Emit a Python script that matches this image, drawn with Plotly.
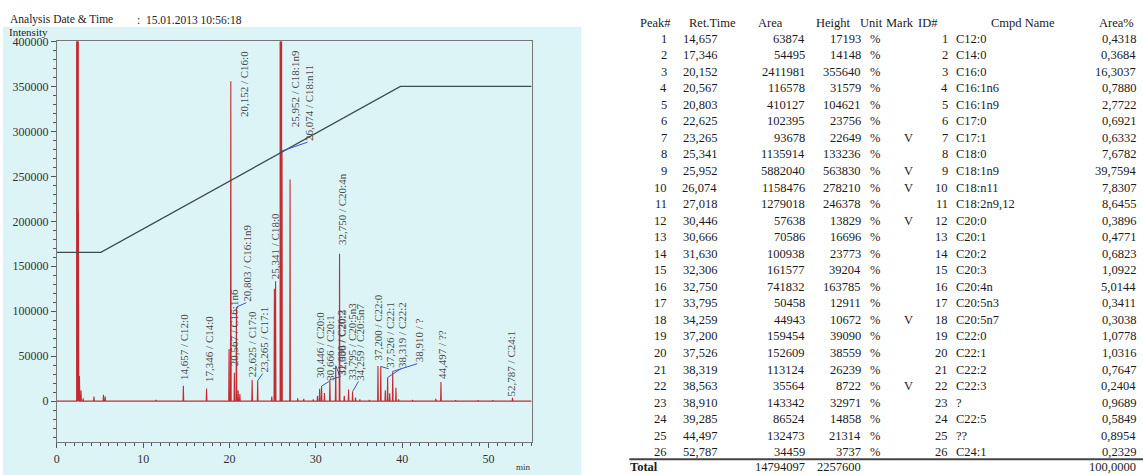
import plotly.graph_objects as go

# ---------------- data ----------------
peak_no = list(range(1, 27))
ret_time = [14.657, 17.346, 20.152, 20.567, 20.803, 22.625, 23.265, 25.341, 25.952, 26.074,
            27.018, 30.446, 30.666, 31.630, 32.306, 32.750, 33.795, 34.259, 37.200, 37.526,
            38.319, 38.563, 38.910, 39.285, 44.497, 52.787]
area = [63874, 54495, 2411981, 116578, 410127, 102395, 93678, 1135914, 5882040, 1158476,
        1279018, 57638, 70586, 100938, 161577, 741832, 50458, 44943, 159454, 152609,
        113124, 35564, 143342, 86524, 132473, 34459]
height = [17193, 14148, 355640, 31579, 104621, 23756, 22649, 133236, 563830, 278210,
          246378, 13829, 16696, 23773, 39204, 163785, 12911, 10672, 39090, 38559,
          26239, 8722, 32971, 14858, 21314, 3737]
mark = ["", "", "", "", "", "", "V", "", "V", "V", "", "V", "", "", "", "", "", "V", "", "",
        "", "V", "", "", "", ""]
cmpd = ["C12:0", "C14:0", "C16:0", "C16:1n6", "C16:1n9", "C17:0", "C17:1", "C18:0", "C18:1n9",
        "C18:n11", "C18:2n9,12", "C20:0", "C20:1", "C20:2", "C20:3", "C20:4n", "C20:5n3",
        "C20:5n7", "C22:0", "C22:1", "C22:2", "C22:3", "?", "C22:5", "??", "C24:1"]
area_pct = ["0,4318", "0,3684", "16,3037", "0,7880", "2,7722", "0,6921", "0,6332", "7,6782",
            "39,7594", "7,8307", "8,6455", "0,3896", "0,4771", "0,6823", "1,0922", "5,0144",
            "0,3411", "0,3038", "1,0778", "1,0316", "0,7647", "0,2404", "0,9689", "0,5849",
            "0,8954", "0,2329"]
total_area = 14794097
total_height = 2257600
total_pct = "100,0000"

# unlabeled peaks (solvent front etc.)
extra_time = [2.38, 2.50, 2.62, 2.80, 3.05, 4.30, 5.40, 5.60, 11.50, 19.95, 21.00, 21.20,
              24.90, 25.20, 27.90, 28.60, 29.70, 30.20, 31.00, 33.30, 34.60, 35.10, 36.20,
              38.05, 39.60, 41.20, 43.90, 46.20, 48.80, 50.50]
extra_height = [2500000, 210000, 28000, 12000, 3000, 5000, 7000, 5000, 1500, 58000, 12000, 8000,
                5000, 125000, 3000, 2500, 2000, 6000, 9000, 6000, 4000, 2000, 1500,
                12000, 2000, 1500, 2500, 1000, 1000, 1000]

# temperature program overlay
temp_time = [0, 5.1, 39.8, 55]
temp_level = [165500, 165500, 350000, 350000]

# labelled peaks (index into table), label placement
lab_idx = [0, 1, 2, 3, 4, 5, 6, 7, 8, 9, 11, 12, 13, 14, 15, 16, 17, 18, 19, 20, 22, 24, 25]
lab_x = [14.8, 17.6, 21.7, 20.62, 22.1, 22.55, 24.0, 25.3, 27.6, 29.2, 30.4, 31.7, 32.9, 33.0,
         33.1, 34.2, 35.1, 37.2, 38.6, 40.0, 41.9, 44.6, 52.6]
lab_base = [21900, 20000, 315000, 38000, 109500, 25000, 30700, 134700, 303000, 288000, 25000,
            22000, 27000, 27000, 172000, 22000, 22000, 44000, 36000, 36000, 41600, 24000, 4000]
lab_leader = [False, False, False, False, True, False, True, False, False, True, False,
              True, True, True, False, False, True, False, True, True, True, False, False]

W, H = 1143, 475
def pxx(x): return x / W
def pxy(y): return 1 - y / H

SERIF = "Liberation Serif"
CYAN = "#ddf4f7"
RED = "#c42a30"

fig = go.Figure()

# chromatogram
peaks = sorted(list(zip(ret_time, height)) + list(zip(extra_time, extra_height)))
cx, cy = [0.0], [0.0]
hw = 0.04
for t, h in peaks:
    cx += [t - hw, t, t + hw]
    cy += [0, h, 0]
cx.append(55.0); cy.append(0.0)
fig.add_trace(go.Scatter(x=cx, y=cy, mode="lines", line=dict(color=RED, width=1.1),
                         hoverinfo="skip", showlegend=False))
# bold over-range peaks
bx, by = [], []
for t, h in peaks:
    if h > 400000:
        bx += [t, t, None]
        by += [0, h, None]
fig.add_trace(go.Scatter(x=bx, y=by, mode="lines", line=dict(color=RED, width=2.6),
                         hoverinfo="skip", showlegend=False))

# temperature program line
fig.add_trace(go.Scatter(x=temp_time, y=temp_level, mode="lines",
                         line=dict(color="#3e4b4c", width=1.3), hoverinfo="skip",
                         showlegend=False))

# leader lines
lx, ly = [], []
for k, i in enumerate(lab_idx):
    if lab_leader[k]:
        lx += [ret_time[i], lab_x[k] - 0.15, None]
        ly += [min(height[i], 400000), lab_base[k], None]
fig.add_trace(go.Scatter(x=lx, y=ly, mode="lines", line=dict(color="#3a55c8", width=1),
                         hoverinfo="skip", showlegend=False))

annotations = []
for k, i in enumerate(lab_idx):
    txt = f"{ret_time[i]:.3f}".replace(".", ",") + " / " + cmpd[i]
    annotations.append(dict(x=lab_x[k], y=lab_base[k], xref="x", yref="y", text=txt,
                            textangle=-90, showarrow=False, xanchor="center", yanchor="bottom",
                            borderpad=0, font=dict(family=SERIF, size=11, color="#4a4a4a")))

# header texts of chromatogram
annotations += [
    dict(x=pxx(5), y=pxy(13), xref="paper", yref="paper", text="Analysis Date & Time",
         showarrow=False, xanchor="left", yanchor="middle",
         font=dict(family=SERIF, size=11.5, color="#222")),
    dict(x=pxx(132), y=pxy(13), xref="paper", yref="paper", text=":  15.01.2013 10:56:18",
         showarrow=False, xanchor="left", yanchor="middle",
         font=dict(family=SERIF, size=11.5, color="#222")),
    dict(x=pxx(4), y=pxy(25), xref="paper", yref="paper", text="Intensity",
         showarrow=False, xanchor="left", yanchor="middle",
         font=dict(family=SERIF, size=11, color="#222")),
    dict(x=pxx(522), y=pxy(467), xref="paper", yref="paper", text="min",
         showarrow=False, xanchor="center", yanchor="middle",
         font=dict(family=SERIF, size=9, color="#333")),
]

# ---------------- table ----------------
TF = dict(family=SERIF, size=12.5, color="#1c1c1c")
def tx(x, y, s, anchor):
    annotations.append(dict(x=pxx(x), y=pxy(y), xref="paper", yref="paper", text=s,
                            showarrow=False, xanchor=anchor, yanchor="middle", font=TF))

head_y = 16
tx(637, head_y, "Peak#", "left")
tx(711, head_y, "Ret.Time", "center")
tx(770, head_y, "Area", "center")
tx(833, head_y, "Height", "center")
tx(857, head_y, "Unit", "left")
tx(883, head_y, "Mark", "left")
tx(915, head_y, "ID#", "left")
tx(1023, head_y, "Cmpd Name", "center")
tx(1136, head_y, "Area%", "right")

row0, dy = 32, 16.8
for r in range(len(peak_no)):
    y = row0 + r * dy
    tx(668, y, str(peak_no[r]), "right")
    tx(718, y, f"{ret_time[r]:.3f}".replace(".", ","), "right")
    tx(806, y, str(area[r]), "right")
    tx(862, y, str(height[r]), "right")
    tx(867, y, "%", "left")
    if mark[r]:
        tx(908, y, mark[r], "center")
    tx(949, y, str(peak_no[r]), "right")
    tx(954, y, cmpd[r], "left")
    tx(1138, y, area_pct[r], "right")

tot_y = 467
annotations.append(dict(x=pxx(627), y=pxy(tot_y), xref="paper", yref="paper", text="<b>Total</b>",
                        showarrow=False, xanchor="left", yanchor="middle", font=TF))
tx(806, tot_y, str(total_area), "right")
tx(862, tot_y, str(total_height), "right")
tx(1138, tot_y, total_pct, "right")

shapes = [
    dict(type="rect", xref="paper", yref="paper", x0=0, x1=pxx(580), y0=0, y1=pxy(20),
         fillcolor=CYAN, line=dict(width=0), layer="below"),
    dict(type="line", xref="paper", yref="paper", x0=pxx(628), x1=1, y0=pxy(459), y1=pxy(459),
         line=dict(color="#444", width=2)),
]

fig.update_layout(
    width=W, height=H,
    margin=dict(l=0, r=0, t=0, b=0),
    paper_bgcolor="white", plot_bgcolor="rgba(0,0,0,0)",
    showlegend=False,
    annotations=annotations, shapes=shapes,
    xaxis=dict(domain=[pxx(54), pxx(530)], range=[0, 55], showgrid=False, zeroline=False,
               showline=True, linecolor="#777", linewidth=1, mirror=True,
               ticks="outside", ticklen=5, tickcolor="#555", dtick=10, tick0=0,
               tickfont=dict(family=SERIF, size=12, color="#333"),
               minor=dict(dtick=1, tick0=0, ticks="outside", ticklen=3, tickcolor="#555")),
    yaxis=dict(domain=[pxy(442), pxy(35)], range=[-46000, 400000], showgrid=False,
               zeroline=False, showline=True, linecolor="#777", linewidth=1, mirror=True,
               ticks="outside", ticklen=5, tickcolor="#555", dtick=50000, tick0=0,
               tickformat="d",
               tickfont=dict(family=SERIF, size=12, color="#333"),
               minor=dict(dtick=10000, tick0=0, ticks="outside", ticklen=3, tickcolor="#555")),
)

fig.write_html("out.html", config={"displayModeBar": False},
               post_script="document.body.style.margin='0';document.body.style.overflow='hidden';")
